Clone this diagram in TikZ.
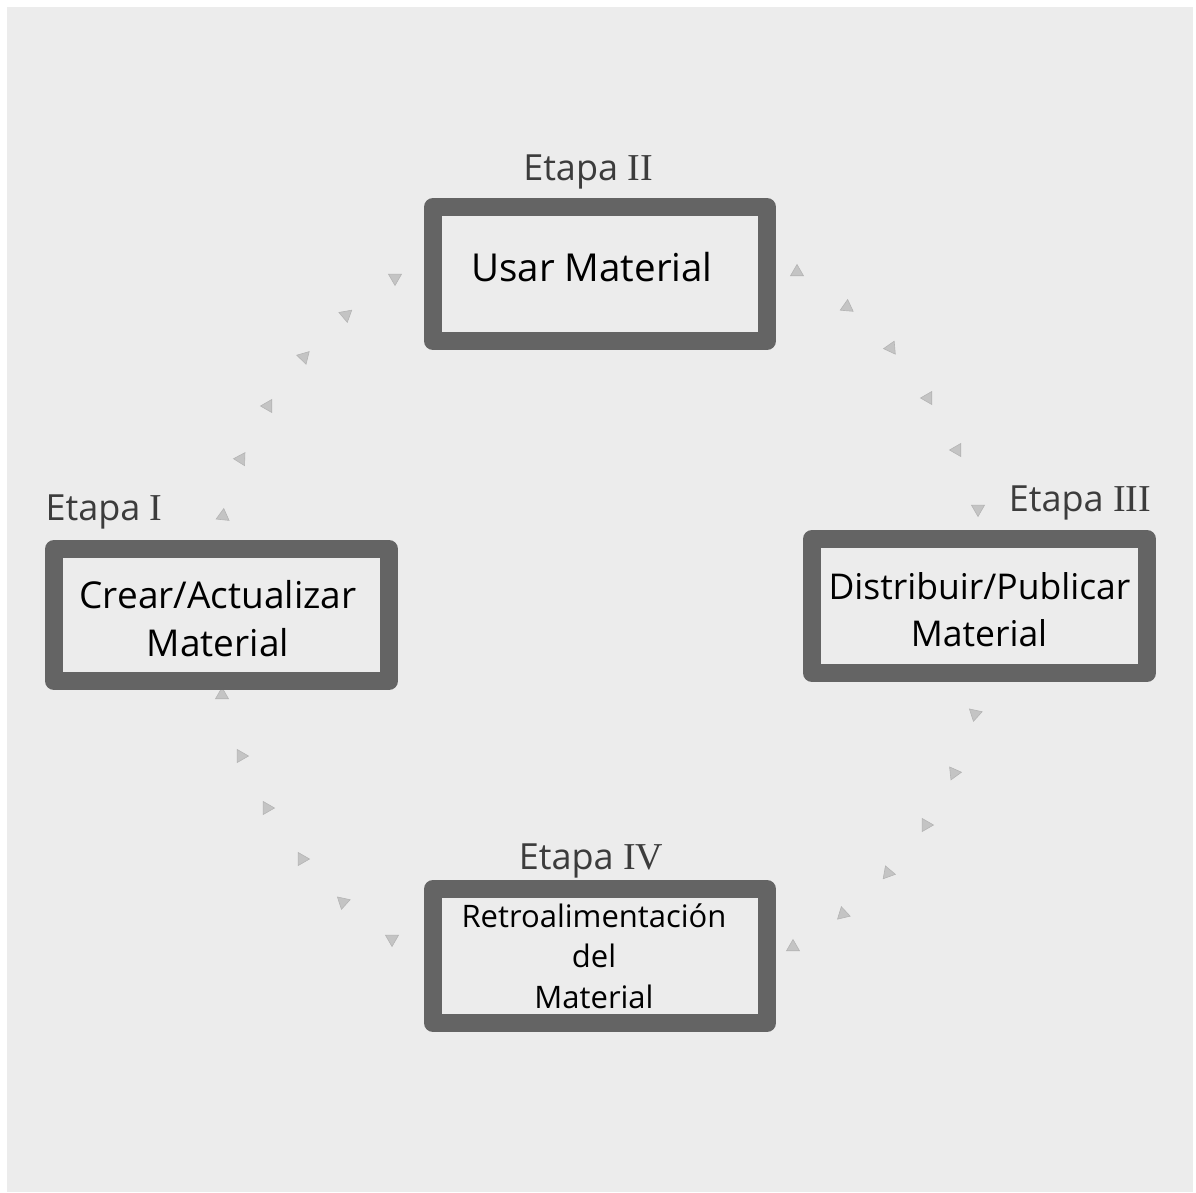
\documentclass[tikz,border=0pt]{standalone}
\usepackage{fontspec}
\setmainfont{Open Sans}
\newfontfamily\numfont{Liberation Serif}
\newcommand{\romnum}[1]{{\numfont\fontsize{38}{42}\selectfont #1}}
\usetikzlibrary{shapes.geometric}
\definecolor{bgc}{HTML}{ECECEC}
\definecolor{boxc}{HTML}{646464}
\definecolor{tric}{HTML}{C4C4C4}
\definecolor{trid}{HTML}{B4B4B4}
\definecolor{labc}{HTML}{3C3C3C}
\tikzset{
  stagebox/.style={draw=boxc, line width=18pt, line join=round, fill=bgc, inner sep=0pt, minimum width=334pt, minimum height=134pt},
  boxtext/.style={anchor=base, inner sep=0pt, text=black, font=\fontsize{37}{44}\selectfont},
  smalltext/.style={anchor=base, inner sep=0pt, text=black, font=\fontsize{31}{37}\selectfont},
  stagelabel/.style={anchor=base, inner sep=0pt, text=labc, font=\fontsize{36}{42}\selectfont},
  tri/.style={regular polygon, regular polygon sides=3, fill=tric, draw=trid, line width=0.6pt, inner sep=0pt, minimum size=15pt, rotate=#1}
}
\begin{document}
\begin{tikzpicture}[x=1pt,y=-1pt]
\useasboundingbox (0,0) rectangle (1196,1193);
\fill[white] (0,0) rectangle (1196,1193);
\fill[bgc] (7,7) rectangle (1193,1192);
% triangles: top-left arc
\node[tri=180] (t1) at (395,278) {};
\node[tri=190] (t2) at (346,315) {};
\node[tri=-44] (t3) at (304,357) {};
\node[tri=90] (t4) at (268,406) {};
\node[tri=88] (t5) at (241,459) {};
\node[tri=-6] (t6) at (223,516) {};
% top-right arc
\node[tri=0] (t7) at (797,272) {};
\node[tri=-5] (t8) at (847,307) {};
\node[tri=-25] (t9) at (891,348) {};
\node[tri=90] (t10) at (928,398) {};
\node[tri=90] (t11) at (957,450) {};
\node[tri=180] (t12) at (978,509) {};
% bottom-right arc
\node[tri=48] (t13) at (975,714) {};
\node[tri=-84] (t14) at (954,773) {};
\node[tri=-90] (t15) at (926,825) {};
\node[tri=20] (t16) at (888,873) {};
\node[tri=13] (t17) at (843,914) {};
\node[tri=0] (t18) at (793,947) {};
% bottom-left arc
\node[tri=0] (t19) at (222,695) {};
\node[tri=-90] (t20) at (241,756) {};
\node[tri=-90] (t21) at (267,808) {};
\node[tri=-90] (t22) at (302,859) {};
\node[tri=48] (t23) at (343,902) {};
\node[tri=180] (t24) at (392,939) {};
% boxes
\node[stagebox, minimum width=335pt, minimum height=132pt] (crear) at (221.5,615) {};
\node[stagebox] (usar) at (600,274) {};
\node[stagebox, minimum width=335pt] (distr) at (979.5,606) {};
\node[stagebox] (retro) at (600,956) {};
% stage labels
\node[stagelabel] (l1) at (104,520) {Etapa \romnum{I}};
\node[stagelabel] (l2) at (588,181) {Etapa \romnum{II}};
\node[stagelabel] (l3) at (1080,511) {Etapa \romnum{III}};
\node[stagelabel] (l4) at (591,869) {Etapa \romnum{IV}};
% box texts
\node[boxtext, font=\fontsize{38.5}{44}\selectfont] (usar1) at (592,281) {Usar Material};
\node[boxtext] (crear1) at (218,608) {Crear/Actualizar};
\node[boxtext] (crear2) at (218,656) {Material};
\node[boxtext, font=\fontsize{35.5}{42}\selectfont] (distr1) at (979.5,599) {Distribuir/Publicar};
\node[boxtext, font=\fontsize{35.5}{42}\selectfont] (distr2) at (979,646) {Material};
\node[smalltext] (retro1) at (594,927) {Retroalimentación};
\node[smalltext] (retro2) at (594,967) {del};
\node[smalltext] (retro3) at (594,1008) {Material};
\end{tikzpicture}
\end{document}
